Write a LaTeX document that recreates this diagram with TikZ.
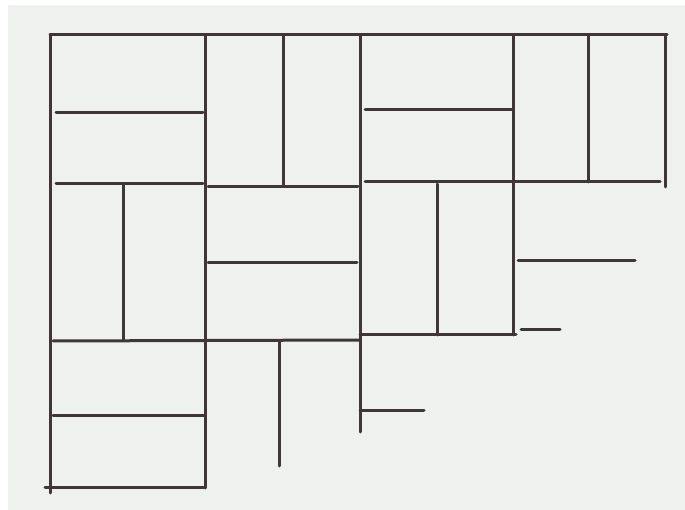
\documentclass[tikz,border=0pt]{standalone}
\usepackage{tikz}
\usetikzlibrary{positioning}
\definecolor{paperGr}{RGB}{238,241,237}
\definecolor{inkGr}{RGB}{62,54,55}

\begin{document}
\begin{tikzpicture}[x=1pt,y=-1pt,
    brick/.style={draw=inkGr,line width=3pt,line cap=round}]
        \useasboundingbox (0,0) rectangle (685,510);
        \fill[white] (0,0) rectangle (685,510);
        \fill[paperGr] (8,5) rectangle (685,510);
        % outer frame
        \draw[brick] (50,35) -- (667,35);
        \draw[brick] (50,35) -- (50,493);
        \draw[brick] (665,35) -- (665,187);
        % first row
        \draw[brick] (56,113) -- (203,113);
        \draw[brick] (205,35) -- (205,488);
        \draw[brick] (283,35) -- (283,185);
        \draw[brick] (360,35) -- (360,432);
        \draw[brick] (365,110) -- (512,110);
        \draw[brick] (513,35) -- (513,335);
        \draw[brick] (588,35) -- (588,182);
        \draw[brick] (56,184) -- (203,184);
        \draw[brick] (208,187) -- (358,187);
        \draw[brick] (365,182) -- (660,182);
        % second row
        \draw[brick] (123,184) -- (123,340);
        \draw[brick] (208,263) -- (357,263);
        \draw[brick] (437,184) -- (437,335);
        \draw[brick] (53,341) -- (360,340);
        \draw[brick] (360,335) -- (516,335);
        \draw[brick] (518,261) -- (635,261);
        \draw[brick] (521,330) -- (560,330);
        % third row
        \draw[brick] (53,415) -- (205,415);
        \draw[brick] (45,487) -- (205,487);
        \draw[brick] (279,341) -- (279,466);
        \draw[brick] (360,410) -- (424,410);
      \end{tikzpicture}
\end{document}
